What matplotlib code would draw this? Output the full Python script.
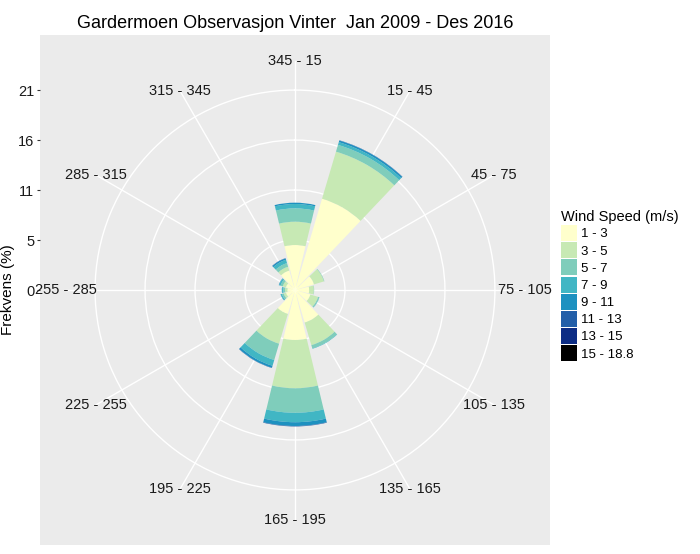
import matplotlib
matplotlib.use('Agg')
import matplotlib.pyplot as plt
import numpy as np
from matplotlib.patches import Patch

plt.rcParams['font.family'] = ['Liberation Sans', 'DejaVu Sans']

# ---------- data ----------
directions = ['345 - 15', '15 - 45', '45 - 75', '75 - 105', '105 - 135', '135 - 165',
              '165 - 195', '195 - 225', '225 - 255', '255 - 285', '285 - 315', '315 - 345']
dir_angle = [0, 30, 60, 90, 120, 150, 180, 210, 240, 270, 300, 330]

speed_labels = ['1 - 3', '3 - 5', '5 - 7', '7 - 9', '9 - 11', '11 - 13', '13 - 15', '15 - 18.8']
speed_colors = ['#FFFFCC', '#C7E9B4', '#7FCDBB', '#41B6C4', '#1D91C0', '#225EA8', '#0C2C84', '#000000']

# frequency (%) per direction sector, one list per speed class
spd_1_3 = [4.77, 10.1, 2.1, 1.5, 1.7, 3.6, 5.3, 2.65, 1.0, 0.8, 1.0, 2.15]
spd_3_5 = [2.47, 5.2, 1.1, 0.5, 0.85, 2.5, 5.12, 3.29, 0.25, 0.25, 0.35, 0.42]
spd_5_7 = [1.42, 0.75, 0.05, 0.03, 0.12, 0.35, 2.6, 1.8, 0.2, 0.2, 0.25, 0.4]
spd_7_9 = [0.46, 0.3, 0.0, 0.0, 0.03, 0.05, 1.0, 0.64, 0.12, 0.12, 0.15, 0.37]
spd_9_11 = [0.14, 0.18, 0.0, 0.0, 0.0, 0.0, 0.4, 0.22, 0.03, 0.03, 0.05, 0.15]
spd_11_13 = [0.0, 0.03, 0.0, 0.0, 0.0, 0.0, 0.05, 0.03, 0.0, 0.0, 0.0, 0.03]
spd_13_15 = [0.0] * 12
spd_15_19 = [0.0] * 12
speed_data = [spd_1_3, spd_3_5, spd_5_7, spd_7_9, spd_9_11, spd_11_13, spd_13_15, spd_15_19]

r_breaks = [0, 5.3, 10.6, 15.9, 21.2]
r_labels = ['0', '5', '11', '16', '21']

title = 'Gardermoen Observasjon Vinter  Jan 2009 - Des 2016'

# ---------- figure ----------
fig = plt.figure(figsize=(7, 5.54), dpi=100)
rect = [40 / 700, 9 / 554, 510 / 700, 510 / 554]
R = 21.2 / 0.392 / 2  # panel half width in data units

# grey panel with the radial axis on the left
bg = fig.add_axes(rect)
bg.set_facecolor('#EBEBEB')
bg.set_xlim(-R, R)
bg.set_ylim(-R, R)
for s in bg.spines.values():
    s.set_visible(False)
bg.set_xticks([])
bg.set_yticks(r_breaks)
bg.set_yticklabels(r_labels)
bg.tick_params(axis='y', length=2.5, width=0.8, color='#333333', labelsize=10.5,
               labelcolor='#1a1a1a', pad=1.5)
bg.set_ylabel('Frekvens (%)', fontsize=11)
bg.yaxis.set_label_coords(-25 / 510, 0.5)

# polar layer
pol = fig.add_axes(rect, projection='polar')
pol.set_facecolor('none')
pol.set_theta_zero_location('N')
pol.set_theta_direction(-1)
pol.set_ylim(0, R)
pol.spines['polar'].set_visible(False)
pol.set_xticks([])
pol.set_yticks(r_breaks[1:])
pol.set_yticklabels([])
pol.set_axisbelow(True)
pol.yaxis.grid(True, color='white', linewidth=1.0)

theta = np.deg2rad(dir_angle)
r_lab = 0.45 / 0.5 * R
for th in theta:
    pol.plot([th, th], [0, r_lab], color='white', linewidth=1.0, zorder=0.5)

width = np.deg2rad(30) * 0.9
bottom = np.zeros(len(directions))
for vals, col in zip(speed_data, speed_colors):
    vals = np.array(vals)
    pol.bar(theta, vals, width=width, bottom=bottom, color=col, edgecolor='none',
            linewidth=0, zorder=2)
    bottom += vals

for th, lab in zip(theta, directions):
    pol.text(th, r_lab, lab, ha='center', va='center', fontsize=10.5, color='#1a1a1a',
             zorder=5)

fig.text(295 / 700, 1 - 23 / 554, title, ha='center', va='center', fontsize=13)

handles = [Patch(facecolor=c, edgecolor='none') for c in speed_colors]
leg = fig.legend(handles, speed_labels, title='Wind Speed (m/s)', loc='upper left',
                 bbox_to_anchor=(561 / 700, 1 - 210 / 554), frameon=False,
                 fontsize=9.5, title_fontsize=10.5, handlelength=1.25, handleheight=1.5,
                 labelspacing=0.08, handletextpad=0.3, borderpad=0, borderaxespad=0)
leg._legend_box.align = 'left'

fig.savefig('out.png', dpi=100)
